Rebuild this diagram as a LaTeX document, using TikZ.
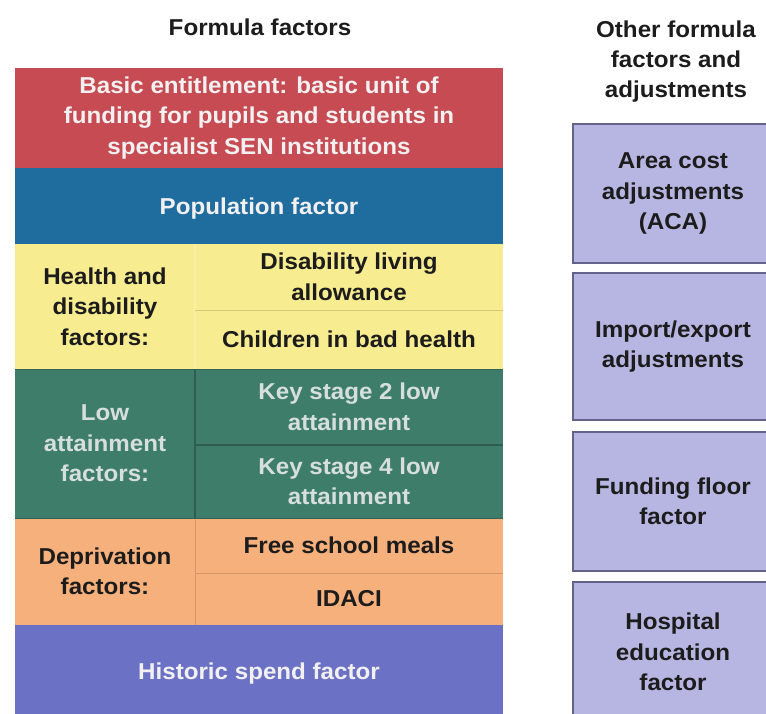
\documentclass[tikz,border=0pt]{standalone}
\usepackage{fontspec}
\setmainfont{Liberation Sans}[FakeStretch=1.05]
\definecolor{cred}{HTML}{C64B53}
\definecolor{cblue}{HTML}{1F6C9E}
\definecolor{cyellow}{HTML}{F7EC8F}
\definecolor{cgreen}{HTML}{3F7D6B}
\definecolor{corange}{HTML}{F6B07C}
\definecolor{cpurple}{HTML}{6B72C5}
\definecolor{clav}{HTML}{B7B6E2}
\definecolor{clavb}{HTML}{62628A}
\definecolor{cdark}{HTML}{1C1C1C}
\definecolor{clight}{HTML}{F2F0F0}
\begin{document}
\begin{tikzpicture}[x=1pt,y=-1pt,
  cell/.style={anchor=north west, inner sep=0pt, outer sep=0pt, align=center,
    font=\fontsize{23}{30.5}\selectfont\bfseries},
  lighttext/.style={text=clight},
  darktext/.style={text=cdark},
  side/.style={cell, fill=clav, draw=clavb, line width=1.6pt, darktext},
  title/.style={align=center, inner sep=0pt, font=\fontsize{23}{30}\selectfont\bfseries, text=cdark}]
\useasboundingbox (0,0) rectangle (766,714);
\clip (0,0) rectangle (766,714);
% titles
\node[title] (t1) at (260,27) {Formula factors};
\node[title] (t2) at (676,62) {Other formula\\factors and\\adjustments};
% left column
\node[cell, fill=cred, lighttext, minimum width=488pt, minimum height=100pt] (basic) at (15,68)
  {Basic entitlement: basic unit of\\funding for pupils and students in\\specialist SEN institutions};
\node[cell, fill=cblue, lighttext, minimum width=488pt, minimum height=76pt, text depth=0pt] (pop) at (15,168)
  {Population factor};
% health
\node[cell, fill=cyellow, darktext, minimum width=180pt, minimum height=125pt] (hl) at (15,244)
  {Health and\\disability\\factors:};
\node[cell, fill=cyellow, darktext, minimum width=308pt, minimum height=66pt] (h1) at (195,244)
  {Disability living\\allowance};
\node[cell, fill=cyellow, darktext, minimum width=308pt, minimum height=59pt] (h2) at (195,310)
  {Children in bad health};
% low attainment
\node[cell, fill=cgreen, text=clight!85!cgreen, minimum width=180pt, minimum height=149pt] (ll) at (15,369)
  {Low\\attainment\\factors:};
\node[cell, fill=cgreen, text=clight!85!cgreen, minimum width=308pt, minimum height=76pt] (l1) at (195,369)
  {Key stage 2 low\\attainment};
\node[cell, fill=cgreen, text=clight!85!cgreen, minimum width=308pt, minimum height=73pt] (l2) at (195,445)
  {Key stage 4 low\\attainment};
% deprivation
\node[cell, fill=corange, darktext, minimum width=180pt, minimum height=107pt] (dl) at (15,518)
  {Deprivation\\factors:};
\node[cell, fill=corange, darktext, minimum width=308pt, minimum height=55pt] (d1) at (195,518)
  {Free school meals};
\node[cell, fill=corange, darktext, minimum width=308pt, minimum height=52pt] (d2) at (195,573)
  {IDACI};
% historic
\node[cell, fill=cpurple, lighttext, minimum width=488pt, minimum height=92pt, text depth=0pt] (hist) at (15,625)
  {Historic spend factor};
% dividers
\draw[cyellow!80!white, line width=1.2pt] (h1.north west) -- (h2.south west);
\draw[cyellow!85!black, line width=0.8pt] (h1.south west) -- (h1.south east);
\draw[cgreen!75!black, line width=1.5pt] (l1.north west) -- (l2.south west);
\draw[cgreen!75!black, line width=1.5pt] (l1.south west) -- (l1.south east);
\draw[corange!85!black, line width=0.8pt] (d1.north west) -- (d2.south west);
\draw[corange!85!black, line width=0.8pt] (d1.south west) -- (d1.south east);
\draw[cgreen!80!black, line width=1pt] (ll.north west) -- (l1.north east);
\draw[cgreen!80!black, line width=1pt] (ll.south west) -- (l2.south east);
% right column
\node[side, minimum width=200pt, minimum height=139pt] (aca) at (573,124)
  {Area cost\\adjustments\\(ACA)};
\node[side, minimum width=200pt, minimum height=147pt] (imp) at (573,273)
  {Import/export\\adjustments};
\node[side, minimum width=200pt, minimum height=139pt] (ff) at (573,432)
  {Funding floor\\factor};
\node[side, minimum width=200pt, minimum height=140pt] (hosp) at (573,582)
  {Hospital\\education\\factor};
\end{tikzpicture}
\end{document}
